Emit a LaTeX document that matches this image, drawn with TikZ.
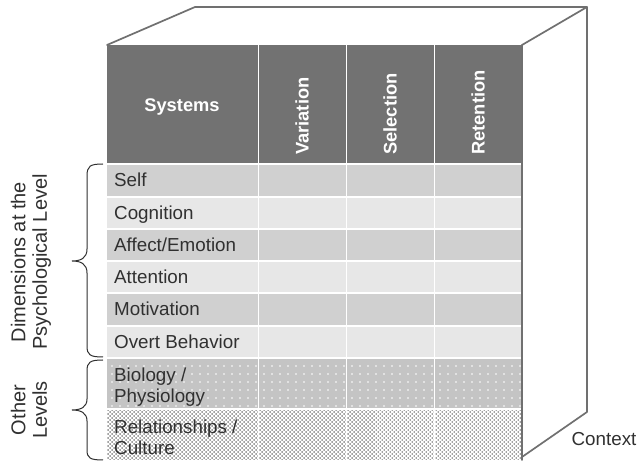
\documentclass[tikz,border=0pt]{standalone}
\usepackage{fontspec}
\setmainfont{Liberation Sans}
\usetikzlibrary{patterns.meta}
\definecolor{hdrgray}{HTML}{727272}
\definecolor{rowdark}{HTML}{D0D0D0}
\definecolor{rowlight}{HTML}{E7E7E7}
\definecolor{biogray}{HTML}{C4C4C4}
\definecolor{cubeline}{HTML}{707070}
\definecolor{txt}{HTML}{303030}
\begin{document}
\begin{tikzpicture}[x=1pt,y=-1pt,
  rowlbl/.style={font=\fontsize{18.8}{21}\selectfont, text=txt, inner sep=0pt, align=left},
  hdr/.style={font=\bfseries\fontsize{18.3}{22}\selectfont, text=white, inner sep=0pt},
  sidelbl/.style={font=\fontsize{20}{21.5}\selectfont, text=txt, inner sep=0pt, align=center, rotate=90},
  cubeedge/.style={draw=cubeline, line width=1.7pt, line join=round, line cap=round},
  sep/.style={draw=white, line width=1.4pt},
  colsep/.style={draw=white, line width=1pt},
  bracestyle/.style={draw=txt, line width=1pt}]
\useasboundingbox (0,0) rectangle (638,462);
\fill[white] (0,0) rectangle (638,462);
% header
\fill[hdrgray] (107,45) rectangle (522,163);
% rows
\fill[rowdark]  (107,163) rectangle (522,197);
\fill[rowlight] (107,197) rectangle (522,229);
\fill[rowdark]  (107,229) rectangle (522,261);
\fill[rowlight] (107,261) rectangle (522,293);
\fill[rowdark]  (107,293) rectangle (522,326);
\fill[rowlight] (107,326) rectangle (522,358);
\fill[biogray]  (107,358) rectangle (522,409);
\fill[pattern={Dots[distance=8pt,radius=0.9pt]}, pattern color=white] (107,358) rectangle (522,409);
\fill[white] (107,409) rectangle (522,460);
\fill[pattern={Dots[distance=2.83pt,angle=45,radius=1.0pt]}, pattern color=black!55] (107,409) rectangle (522,460);
% separators
\foreach \yy in {164,197,229,261,293,326,358,409}{\draw[sep] (107,\yy) -- (522,\yy);}
\foreach \xx in {258,346,434}{\draw[colsep] (\xx,45) -- (\xx,460);}
% cube
\coordinate (ftl) at (107,45);
\coordinate (btl) at (195,7);
\coordinate (btr) at (587,7);
\coordinate (bbr) at (587,412);
\coordinate (fbr) at (522,457);
\coordinate (ftr) at (522,45);
\coordinate (fbr2) at (522,460);
\draw[cubeedge] (ftl) -- (btl) -- (btr) -- (bbr) -- (fbr);
\draw[cubeedge] (ftr) -- (btr);
\draw[cubeedge] (ftr) -- (fbr2);
% header texts
\node[hdr] (sys) at (182,107) {Systems};
\node[hdr, rotate=90, anchor=west] (var) at (302,155) {Variation};
\node[hdr, rotate=90, anchor=west] (sel) at (390,155) {Selection};
\node[hdr, rotate=90, anchor=west] (ret) at (478,155) {Retention};
% row labels
\node[rowlbl, anchor=base west] (self) at (114,187) {Self};
\node[rowlbl, anchor=base west] (cog) at (114,219.5) {Cognition};
\node[rowlbl, anchor=base west] (aff) at (114,251.5) {Affect/Emotion};
\node[rowlbl, anchor=base west] (att) at (114,283.5) {Attention};
\node[rowlbl, anchor=base west] (mot) at (114,316) {Motivation};
\node[rowlbl, anchor=base west] (ovb) at (114,348.5) {Overt Behavior};
\node[rowlbl, anchor=west] (bio) at (114,387) {Biology /\\Physiology};
\node[rowlbl, anchor=west] (rel) at (114,437) {Relationships /\\Culture};
% braces
\coordinate (b1top) at (103,164);
\coordinate (b1tip) at (72,261);
\coordinate (b1bot) at (103,357);
\draw[bracestyle] (b1top) .. controls (90,164) and (87,166) .. (87,176) -- (87,249)
   .. controls (87,258) and (81,261) .. (b1tip)
   .. controls (81,261) and (87,264) .. (87,273) -- (87,346)
   .. controls (87,355) and (90,357) .. (b1bot);
\coordinate (b2top) at (103,360);
\coordinate (b2tip) at (72,410);
\coordinate (b2bot) at (103,460);
\draw[bracestyle] (b2top) .. controls (90,360) and (87,362) .. (87,371) -- (87,399)
   .. controls (87,407) and (81,410) .. (b2tip)
   .. controls (81,410) and (87,413) .. (87,421) -- (87,450)
   .. controls (87,458) and (90,460) .. (b2bot);
% side labels
\node[sidelbl] (dim) at (31,262) {Dimensions at the\\Psychological Level};
\node[sidelbl] (oth) at (29,410) {Other\\Levels};
% context
\node[font=\fontsize{18.8}{21}\selectfont, text=txt, inner sep=0pt] (ctx) at (604,439) {Context};
\end{tikzpicture}
\end{document}
